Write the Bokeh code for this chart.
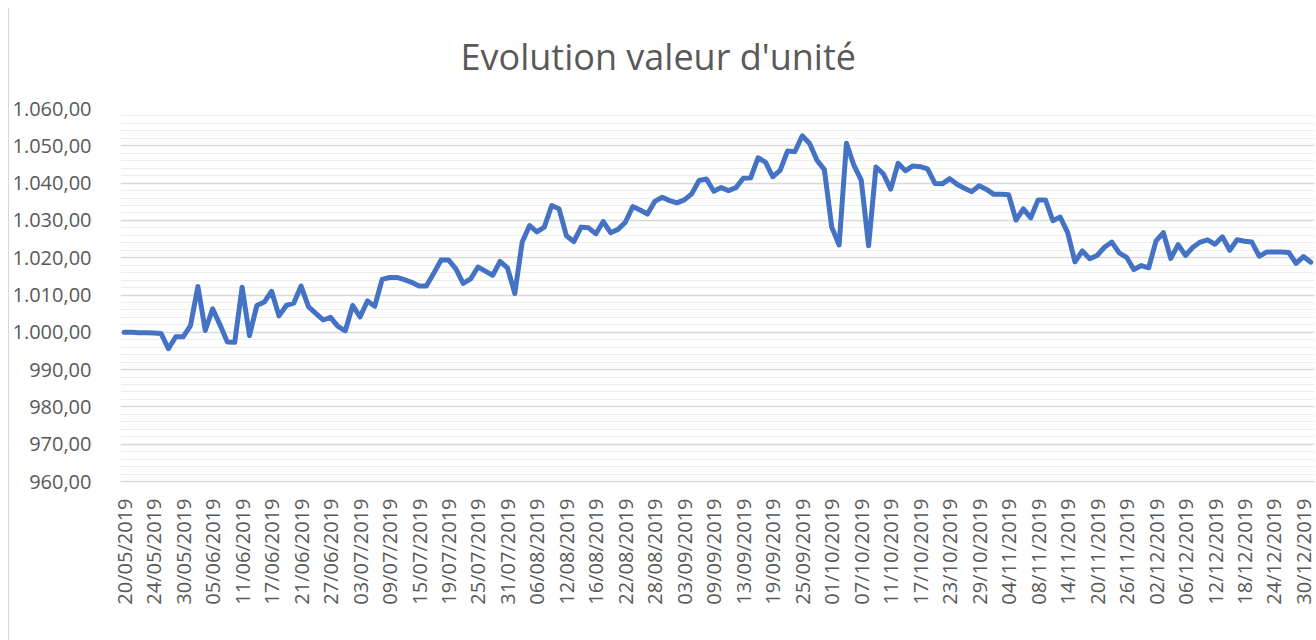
import math
import pandas as pd
from bokeh.plotting import figure
from bokeh.models import ColumnDataSource, Range1d, FixedTicker
from bokeh.embed import file_html
from bokeh.resources import INLINE

# ---- data ----
TITLE = "Evolution valeur d'unité"
START_DATE = "2019-05-20"
END_DATE = "2019-12-31"
dates = pd.bdate_range(START_DATE, END_DATE).strftime("%d/%m/%Y").tolist()

values = [
    1000.0, 1000.0, 999.9, 999.9, 999.8, 999.7, 995.6, 998.8, 998.8, 1001.8,
    1012.3, 1000.5, 1006.3, 1002.0, 997.4, 997.3, 1012.1, 999.1, 1007.2, 1008.1,
    1011.0, 1004.4, 1007.2, 1007.8, 1012.4, 1006.9, 1005.1, 1003.3, 1004.0, 1001.6,
    1000.4, 1007.2, 1004.1, 1008.4, 1007.0, 1014.2, 1014.7, 1014.7, 1014.1, 1013.4,
    1012.4, 1012.4, 1015.8, 1019.4, 1019.4, 1017.0, 1013.1, 1014.3, 1017.5, 1016.4,
    1015.3, 1019.0, 1017.3, 1010.4, 1024.2, 1028.6, 1026.9, 1028.2, 1034.0, 1033.1,
    1025.9, 1024.3, 1028.2, 1028.0, 1026.4, 1029.7, 1026.7, 1027.6, 1029.5, 1033.7,
    1032.8, 1031.7, 1035.1, 1036.2, 1035.3, 1034.7, 1035.5, 1037.1, 1040.7, 1041.1,
    1037.8, 1038.8, 1038.0, 1038.8, 1041.3, 1041.4, 1046.8, 1045.6, 1041.7, 1043.4,
    1048.6, 1048.4, 1052.7, 1050.6, 1046.1, 1043.6, 1028.2, 1023.4, 1050.7, 1044.8,
    1040.8, 1023.2, 1044.3, 1042.5, 1038.4, 1045.3, 1043.3, 1044.6, 1044.4, 1043.8,
    1039.9, 1039.8, 1041.2, 1039.7, 1038.6, 1037.7, 1039.3, 1038.3, 1037.0, 1037.0,
    1036.9, 1030.1, 1033.1, 1030.7, 1035.5, 1035.5, 1029.9, 1030.9, 1026.8, 1018.9,
    1021.8, 1019.7, 1020.6, 1022.8, 1024.2, 1021.3, 1020.1, 1016.8, 1017.9, 1017.3,
    1024.5, 1026.7, 1019.8, 1023.5, 1020.6, 1022.8, 1024.2, 1024.8, 1023.6, 1025.6,
    1022.0, 1024.8, 1024.4, 1024.2, 1020.4, 1021.5, 1021.5, 1021.5, 1021.4, 1018.5,
    1020.3, 1018.8,
]

Y_TICKS = [960, 970, 980, 990, 1000, 1010, 1020, 1030, 1040, 1050, 1060]
Y_LABELS = ["960,00", "970,00", "980,00", "990,00", "1.000,00", "1.010,00",
            "1.020,00", "1.030,00", "1.040,00", "1.050,00", "1.060,00"]
X_LABEL_STEP = 4

# ---- figure ----
n = len(values)
src = ColumnDataSource(dict(x=list(range(n)), v=values, d=dates[:n]))

p = figure(width=1316, height=640,
           x_range=Range1d(-0.5, n - 0.5), y_range=Range1d(Y_TICKS[0], Y_TICKS[-1]),
           output_backend="svg", toolbar_location=None,
           min_border_left=120, min_border_right=2,
           min_border_top=108, min_border_bottom=159)
p.outline_line_color = None
p.background_fill_color = "white"
p.border_fill_color = None
# thin chart-area border on the left (as in the Excel chart)
p.styles = {
    "background-color": "white",
    "background-image": "linear-gradient(to right, transparent 8px, #D9D9D9 8px, "
                        "#D9D9D9 9.5px, transparent 9.5px)",
    "background-size": "100% 632px",
    "background-position": "0 8px",
    "background-repeat": "no-repeat",
}

# title
p.title.text = TITLE
p.title.align = "left"
p.title.offset = 340
p.title.text_font = "Open Sans"
p.title.text_font_size = "36px"
p.title.text_font_style = "normal"
p.title.text_color = "#595959"
p.title.standoff = 56

# grid
minor = [t for t in range(Y_TICKS[0], Y_TICKS[-1] + 1, 2) if t not in Y_TICKS]
p.yaxis.ticker = FixedTicker(ticks=Y_TICKS, minor_ticks=minor)
p.ygrid.grid_line_color = "#D9D9D9"
p.ygrid.grid_line_width = 1.5
p.ygrid.minor_grid_line_color = "#EDEDED"
p.ygrid.minor_grid_line_width = 1.2
p.xgrid.visible = False

# y axis
p.yaxis.axis_line_color = None
p.yaxis.major_tick_line_color = None
p.yaxis.minor_tick_line_color = None
p.yaxis.major_label_overrides = {t: l for t, l in zip(Y_TICKS, Y_LABELS)}
p.yaxis.major_label_text_font = "Open Sans"
p.yaxis.major_label_text_font_size = "20px"
p.yaxis.major_label_text_color = "#595959"
p.yaxis.major_label_standoff = 23

# x axis
xt = list(range(0, n, X_LABEL_STEP))
p.xaxis.ticker = FixedTicker(ticks=xt)
p.xaxis.major_label_overrides = {i: dates[i] for i in xt}
p.xaxis.major_label_orientation = math.pi / 2
p.xaxis.axis_line_color = "#D9D9D9"
p.xaxis.axis_line_width = 1.5
p.xaxis.major_tick_line_color = None
p.xaxis.minor_tick_line_color = None
p.xaxis.major_label_text_font = "Open Sans"
p.xaxis.major_label_text_font_size = "20px"
p.xaxis.major_label_text_color = "#595959"
p.xaxis.major_label_standoff = 11

# line
p.line(x="x", y="v", source=src, line_color="#4472C4", line_width=5,
       line_join="round", line_cap="round")

open("out.html", "w").write(file_html(p, INLINE))
